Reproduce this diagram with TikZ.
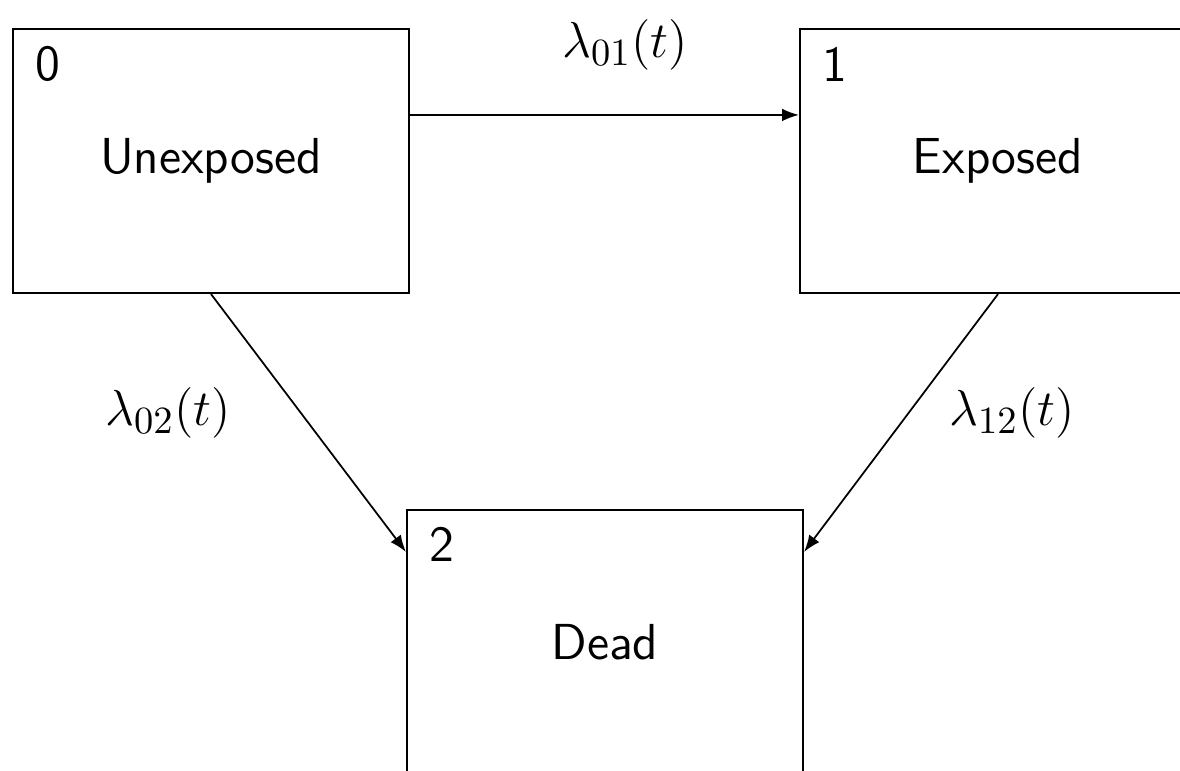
\documentclass[tikz,border=0pt]{standalone}
\usetikzlibrary{arrows.meta, calc}
\DeclareMathSizes{14.4}{14.4}{10.8}{7.5}
\tikzset{
  statebox/.style={draw, line width=0.6pt, minimum width=39.6mm, minimum height=26.4mm, inner sep=0pt, font=\Large\sffamily},
  statenum/.style={font=\Large\sffamily},
  trans/.style={-{Latex[length=4.8pt, width=3.6pt]}, line width=0.5pt},
  rate/.style={font=\Large},
}
\begin{document}
\begin{tikzpicture}[x=0.1mm, y=-0.1mm]
  \useasboundingbox (0,0) rectangle (1180,770);
  \clip (0,0) rectangle (1180,770);
  % states
  \node[statebox] (unexp) at (211,161) {Unexposed};
  \node[statebox] (exp) at (998,161) {Exposed};
  \node[statebox] (dead) at (605,642) {Dead};
  % state numbers
  \node[statenum] (n0) at ([shift={(36,36)}]unexp.north west) {0};
  \node[statenum] (n1) at ([shift={(36,36)}]exp.north west) {1};
  \node[statenum] (n2) at ([shift={(36,35)}]dead.north west) {2};
  % transitions
  \draw[trans] ($(unexp.north east)+(0,87)$) -- ($(exp.north west)+(0,87)$);
  \draw[trans] (unexp.south) -- ($(dead.north west)+(0,43)$);
  \draw[trans] (exp.south) -- ($(dead.north east)+(0,43)$);
  % rates
  \node[rate] (r01) at (625,45) {$\lambda_{01}(t)$};
  \node[rate] (r02) at (168,413) {$\lambda_{02}(t)$};
  \node[rate] (r12) at (1012,413) {$\lambda_{12}(t)$};
\end{tikzpicture}
\end{document}
